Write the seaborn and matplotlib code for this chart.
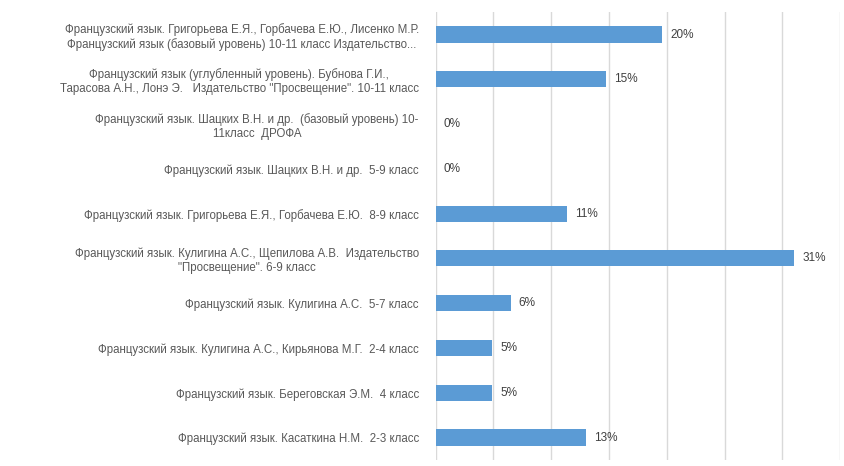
import numpy as np
import pandas as pd
import matplotlib.pyplot as plt
import seaborn as sns

# Data
labels = [
    "Французский язык. Григорьева Е.Я., Горбачева Е.Ю., Лисенко М.Р.\nФранцузский язык (базовый уровень) 10-11 класс Издательство...",
    "Французский язык (углубленный уровень). Бубнова Г.И.,\nТарасова А.Н., Лонэ Э.   Издательство \"Просвещение\". 10-11 класс",
    "Французский язык. Шацких В.Н. и др.  (базовый уровень) 10-\n11класс  ДРОФА",
    "Французский язык. Шацких В.Н. и др.  5-9 класс",
    "Французский язык. Григорьева Е.Я., Горбачева Е.Ю.  8-9 класс",
    "Французский язык. Кулигина А.С., Щепилова А.В.  Издательство\n\"Просвещение\". 6-9 класс",
    "Французский язык. Кулигина А.С.  5-7 класс",
    "Французский язык. Кулигина А.С., Кирьянова М.Г.  2-4 класс",
    "Французский язык. Береговская Э.М.  4 класс",
    "Французский язык. Касаткина Н.М.  2-3 класс",
]
shares = [0.196, 0.147, 0.0, 0.0, 0.114, 0.310, 0.065, 0.049, 0.049, 0.130]

df = pd.DataFrame({"label": labels, "share": shares})

plt.rcParams["font.family"] = "Liberation Sans"
fig = plt.figure(figsize=(8.44, 4.66), dpi=100)
ax = fig.add_axes([0.516, 0.013, 0.4796, 0.961])

sns.barplot(data=df, x="share", y="label", color="#5B9BD5", width=0.36,
            saturation=1, ax=ax, zorder=3)

ax.set_xlim(0, 0.35)
ax.set_xticks(np.arange(0, 0.351, 0.05))
ax.xaxis.grid(True, color="#D9D9D9", linewidth=1, zorder=0)
ax.tick_params(axis="x", length=0, labelbottom=False)
ax.tick_params(axis="y", length=0, pad=12, labelsize=8.3, labelcolor="#595959")
for t in ax.get_yticklabels():
    t.set_multialignment("center")
for s in ax.spines.values():
    s.set_visible(False)
ax.set_xlabel("")
ax.set_ylabel("")

for i, v in enumerate(shares):
    ax.text(v + 0.007, i, f"{v:.0%}", va="center", ha="left",
            fontsize=8.5, color="#404040")

plt.savefig("out.png", dpi=100)
